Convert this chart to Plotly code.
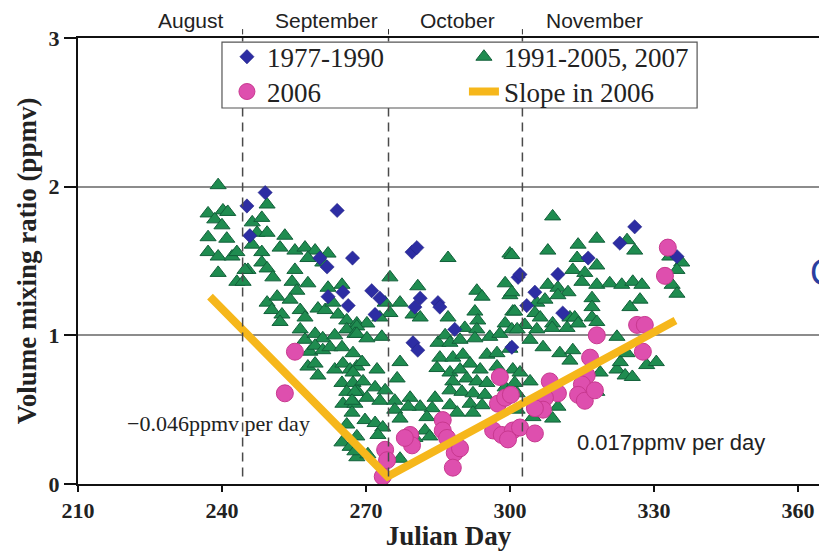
import plotly.graph_objects as go

# ---- 1977-1990 observations (Julian day, volume mixing ratio in ppmv) ----
day_7790 = [249.0, 245.2, 264.0, 267.2, 260.4, 261.9, 245.8, 265.2, 266.3, 262.1,
            279.6, 280.6, 271.2, 272.9, 281.3, 285.0, 280.2, 285.4, 301.7, 271.9,
            326.0, 322.9, 316.3, 302.1, 310.0, 305.2, 303.5, 311.0, 334.8, 279.8,
            280.8, 288.5, 300.4]
vmr_7790 = [1.96, 1.87, 1.84, 1.52, 1.52, 1.46, 1.67, 1.29, 1.20, 1.26,
            1.56, 1.59, 1.30, 1.25, 1.25, 1.22, 1.19, 1.19, 1.39, 1.14,
            1.73, 1.62, 1.52, 1.41, 1.41, 1.29, 1.20, 1.15, 1.53, 0.95,
            0.90, 1.04, 0.92]

# ---- 1991-2005 and 2007 observations ----
day_9107 = [
    239.2, 237.1, 240.2, 241.2, 238.5, 240.0, 237.1, 241.0, 237.1, 239.2,
    242.1, 243.1, 239.2, 243.1, 244.4, 245.4, 246.3, 248.3, 249.4, 247.3,
    249.4, 246.3, 248.3, 253.1, 252.1, 255.2, 257.3, 259.4, 257.9, 262.1,
    261.0, 248.3, 249.4, 250.6, 244.8, 255.2, 254.6, 257.9, 255.6, 262.1,
    265.0, 249.4, 251.5, 250.4, 252.5, 254.2, 256.3, 257.3, 260.0, 261.5,
    263.1, 264.2, 266.0, 268.1,
    287.1, 300.0, 275.0, 280.8, 277.1, 274.0, 293.1, 294.2, 299.0, 300.0,
    292.7, 293.3, 300.6, 287.1, 279.8, 281.3, 275.0, 272.9, 270.2, 299.0,
    268.1,
    308.9, 318.1, 307.9, 314.2, 324.4, 326.0, 314.0, 318.1, 313.1, 315.6,
    315.0, 300.4, 318.1, 320.8, 323.3, 325.6, 327.5, 307.9, 310.0, 312.1,
    310.0, 305.6, 307.3, 317.1, 317.1, 327.1, 325.0, 300.4, 301.0, 305.2,
    306.3, 312.5, 313.5, 317.1, 318.1, 308.9, 303.1, 333.3, 335.8, 334.8,
    333.8, 334.8,
    252.1, 256.3, 257.3, 259.4, 261.0, 263.5, 266.0, 267.7, 258.3, 259.4,
    261.0, 262.5, 265.0, 257.9, 259.4, 260.0, 263.5, 265.2, 266.7, 268.1,
    265.0, 267.3, 266.0, 268.3, 265.2, 267.7, 267.1, 266.0, 265.0, 266.7,
    268.3, 268.1,
    268.1, 270.2, 273.3, 267.3, 269.2, 272.3, 277.1, 276.5, 267.3, 269.4,
    271.9, 274.0, 267.7, 267.1, 270.2, 272.9, 276.0, 279.2, 281.3, 283.8,
    284.4, 287.5, 278.8, 276.0, 269.8, 271.9, 273.5, 277.1, 268.1, 272.5,
    282.3, 283.3, 280.2, 267.7, 270.4, 277.1, 285.0, 286.5, 287.5, 289.6,
    290.6, 293.1, 292.7, 295.8, 297.9, 300.4, 285.4, 288.1, 290.2, 291.7,
    295.2, 297.3, 300.0, 284.8, 287.5, 289.6, 291.0, 293.8, 297.3, 288.1,
    293.1, 295.2, 287.5, 290.0, 292.3, 294.8, 299.0, 301.5, 291.7, 294.2,
    289.0, 292.3, 282.7,
    301.5, 304.2, 306.9, 310.4, 312.5, 313.1, 300.6, 302.1, 301.0, 304.2,
    318.8, 318.1, 322.3, 324.0, 323.0, 324.4, 322.3, 310.0, 308.9, 304.8,
    301.5, 305.6, 308.8, 311.9, 314.2, 325.5, 328.5, 330.5]
vmr_9107 = [
    2.01, 1.82, 1.84, 1.83, 1.78, 1.74, 1.66, 1.65, 1.56, 1.53,
    1.53, 1.56, 1.42, 1.36, 1.36, 1.44, 1.76, 1.79, 1.88, 1.69,
    1.69, 1.61, 1.56, 1.67, 1.59, 1.57, 1.59, 1.57, 1.52, 1.55,
    1.49, 1.49, 1.45, 1.39, 1.44, 1.44, 1.36, 1.35, 1.30, 1.32,
    1.34, 1.22, 1.26, 1.17, 1.14, 1.24, 1.17, 1.12, 1.18, 1.17,
    1.22, 1.14, 1.10, 1.08,
    1.52, 1.55, 1.39, 1.33, 1.22, 1.22, 1.30, 1.26, 1.35, 1.27,
    1.16, 1.10, 1.16, 1.12, 1.14, 1.12, 1.15, 1.12, 1.08, 1.08,
    1.06,
    1.80, 1.65, 1.57, 1.61, 1.64, 1.57, 1.52, 1.47, 1.44, 1.42,
    1.36, 1.54, 1.34, 1.35, 1.34, 1.36, 1.34, 1.34, 1.32, 1.29,
    1.27, 1.22, 1.24, 1.25, 1.19, 1.24, 1.19, 1.29, 1.16, 1.15,
    1.12, 1.12, 1.12, 1.12, 1.09, 1.08, 1.07, 1.53, 1.49, 1.44,
    1.34, 1.28,
    1.09, 1.04, 0.97, 1.01, 0.98, 1.00, 1.04, 1.01, 0.89, 0.93,
    0.90, 0.92, 0.92, 0.79, 0.81, 0.73, 0.77, 0.81, 0.77, 0.79,
    0.68, 0.68, 0.62, 0.62, 0.54, 0.54, 0.48, 0.40, 0.28, 0.25,
    0.23, 0.18,
    1.01, 0.98, 0.99, 0.88, 0.82, 0.77, 0.82, 0.71, 0.75, 0.69,
    0.65, 0.63, 0.62, 0.56, 0.58, 0.56, 0.56, 0.58, 0.52, 0.51,
    0.58, 0.53, 0.52, 0.50, 0.43, 0.41, 0.38, 0.44, 0.32, 0.33,
    0.36, 0.32, 0.31, 0.22, 0.20, 0.17, 0.95, 1.00, 0.95, 0.97,
    1.05, 1.04, 0.98, 0.99, 1.01, 1.04, 0.85, 0.85, 0.87, 0.81,
    0.87, 0.88, 0.91, 0.78, 0.75, 0.77, 0.71, 0.77, 0.79, 0.69,
    0.69, 0.68, 0.63, 0.62, 0.61, 0.60, 0.65, 0.61, 0.54, 0.53,
    0.48, 0.48, 0.45,
    1.04, 0.97, 0.92, 0.88, 0.83, 0.90, 0.77, 0.75, 0.68, 0.69,
    0.75, 0.62, 0.77, 0.73, 0.82, 0.88, 0.99, 0.52, 0.44, 0.45,
    0.50, 1.04, 1.05, 1.05, 1.08, 0.72, 0.80, 0.82]

# ---- 2006 observations ----
day_2006 = [255.2, 253.1, 274.0, 274.4, 273.5, 279.2, 279.6, 278.1, 286.0, 286.0,
            286.9, 288.5, 288.1, 289.6, 297.9, 297.5, 299.0, 296.5, 298.3, 300.6,
            299.6, 318.1, 326.5, 327.7, 316.7, 316.0, 315.0, 314.2, 315.6, 317.7,
            308.3, 310.0, 307.3, 306.9, 305.2, 302.1, 305.2, 300.2, 332.9, 332.3,
            328.1]
vmr_2006 = [0.89, 0.61, 0.23, 0.16, 0.05, 0.33, 0.26, 0.31, 0.43, 0.36,
            0.31, 0.21, 0.11, 0.24, 0.72, 0.54, 0.58, 0.36, 0.33, 0.36,
            0.30, 1.00, 1.07, 0.89, 0.85, 0.73, 0.67, 0.60, 0.56, 0.63,
            0.69, 0.61, 0.58, 0.50, 0.51, 0.38, 0.34, 0.60, 1.59, 1.40,
            1.07]

# ---- 2006 trend: decline then recovery ----
slope_day = [237.5, 274.5, 334.5]
slope_vmr = [1.26, 0.05, 1.10]

# Month boundaries (Julian day) and month names
month_bounds = [244.3, 274.7, 302.6]
month_names = ["August", "September", "October", "November"]
month_label_day = [233.5, 261.7, 289.0, 317.7]

x_ticks = [210, 240, 270, 300, 330, 360]
y_ticks = [0, 1, 2, 3]

SERIF = "Liberation Serif, Times New Roman, serif"
SANS = "Liberation Sans, Arial, sans-serif"

fig = go.Figure()

fig.add_trace(go.Scatter(
    x=day_9107, y=vmr_9107, mode="markers", name="1991-2005, 2007",
    legend="legend", legendrank=2,
    marker=dict(symbol="triangle-up", size=14, color="#1f8c50",
                line=dict(color="#12603a", width=1)),
))
fig.add_trace(go.Scatter(
    x=day_7790, y=vmr_7790, mode="markers", name="1977-1990",
    legend="legend", legendrank=1,
    marker=dict(symbol="diamond", size=11, color="#2d2da3",
                line=dict(color="#22227e", width=0.5)),
))
fig.add_trace(go.Scatter(
    x=day_2006, y=vmr_2006, mode="markers", name="2006",
    legend="legend2", legendrank=1,
    marker=dict(symbol="circle", size=17, color="#de4fae",
                line=dict(color="#c8388f", width=1)),
))
fig.add_trace(go.Scatter(
    x=slope_day, y=slope_vmr, mode="lines", name="Slope in 2006",
    legend="legend2", legendrank=2,
    line=dict(color="#f6b71b", width=8),
))

shapes = []
# dashed month separators inside the plot
for d in month_bounds:
    shapes.append(dict(type="line", xref="x", yref="y", x0=d, x1=d, y0=0.05, y1=3,
                       line=dict(color="#4a4a4a", width=1.5, dash="9px,6px"),
                       layer="above"))
# small separator ticks between the month names
for d in month_bounds:
    shapes.append(dict(type="line", xref="x", yref="paper", x0=d, x1=d,
                       y0=1.008, y1=1.02, line=dict(color="#333333", width=1)))
# legend frame
shapes.append(dict(type="rect", xref="x", yref="y", x0=240.0, x1=339.0,
                   y0=2.529, y1=2.972, fillcolor="white",
                   line=dict(color="#555555", width=1.2), layer="above"))

annotations = []
for name, d in zip(month_names, month_label_day):
    annotations.append(dict(x=d, y=1.040, xref="x", yref="paper", text=name,
                            yanchor="middle", showarrow=False,
                            font=dict(family=SANS, size=21, color="#222222")))
annotations.append(dict(x=239.2, y=0.41, xref="x", yref="y", text="\u22120.046ppmv per day",
                        showarrow=False, font=dict(family=SERIF, size=22, color="#222222")))
annotations.append(dict(x=333.5, y=0.276, xref="x", yref="y", text="0.017ppmv per day",
                        showarrow=False, font=dict(family=SANS, size=22, color="#222222")))
annotations.append(dict(x=0.985, y=0.475, xref="paper", yref="paper", text="C",
                        xanchor="left", showarrow=False,
                        font=dict(family=SANS, size=36, color="#2b3fa0")))

legend_common = dict(orientation="h", xanchor="left", yanchor="middle",
                     entrywidth=192, entrywidthmode="pixels",
                     bgcolor="rgba(0,0,0,0)", borderwidth=0,
                     font=dict(family=SERIF, size=27, color="#222222"))

fig.update_layout(
    width=819, height=551,
    margin=dict(l=78, r=0, t=38, b=67),
    paper_bgcolor="white", plot_bgcolor="white",
    showlegend=True,
    legend=dict(x=0.201, y=0.957, **legend_common),
    legend2=dict(x=0.201, y=0.879, **legend_common),
    shapes=shapes,
    annotations=annotations,
    xaxis=dict(
        range=[210, 364.4], tickvals=x_ticks, ticks="outside", ticklen=6,
        tickwidth=2, tickcolor="#111111", showline=True, linecolor="#111111",
        linewidth=2, mirror=True, showgrid=False, zeroline=False,
        tickfont=dict(family=SERIF, size=22, color="#222222", weight="bold"),
        title=dict(text="Julian Day", standoff=6,
                   font=dict(family=SERIF, size=27, color="#222222", weight="bold")),
    ),
    yaxis=dict(
        range=[0, 3], tickvals=y_ticks, ticks="outside", ticklen=12,
        tickwidth=2, tickcolor="#111111", showline=True, linecolor="#111111",
        linewidth=2, showgrid=True, gridcolor="#8c8c8c", gridwidth=1.5,
        zeroline=False,
        tickfont=dict(family=SERIF, size=22, color="#222222", weight="bold"),
        title=dict(text="Volume mixing ratio (ppmv)", standoff=4,
                   font=dict(family=SERIF, size=27, color="#222222", weight="bold")),
    ),
)

fig.write_html("out.html")
